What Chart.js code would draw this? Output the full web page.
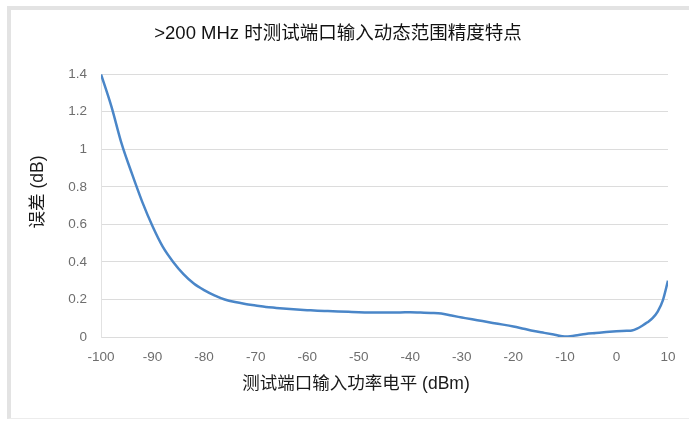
<!DOCTYPE html>
<html>
<head>
<meta charset="utf-8">
<script src="https://cdn.jsdelivr.net/npm/chart.js@4"></script>
<style>
  html, body { margin: 0; padding: 0; background: #ffffff; }
  #wrap { position: relative; width: 689px; height: 422px; overflow: hidden; }
  #frame { position: absolute; left: 7px; top: 6px; width: 700px; height: 413px;
           border-left: 4px solid #e3e3e3; border-top: 4px solid #e3e3e3; border-bottom: 1px solid #ececec;
           box-sizing: border-box; }
  canvas { position: absolute; left: 0; top: 0; }
</style>
</head>
<body>
<div id="wrap">
  <div id="frame"></div>
  <canvas id="c" width="689" height="422"></canvas>
</div>
<script>
const chartTitle = '>200 MHz 时测试端口输入动态范围精度特点';
const xAxisTitle = '测试端口输入功率电平 (dBm)';
const yAxisTitle = '误差 (dB)';

const powerLevels = [-100, -98, -96, -94, -92, -90, -88, -86, -84, -82, -80, -78, -76, -74, -72, -70,
  -68, -66, -64, -62, -60, -58, -56, -54, -52, -50, -48, -46, -44, -42, -40, -38, -36, -34, -32, -30,
  -28, -26, -24, -22, -20, -18, -16, -14, -12, -10, -8, -6, -4, -2, 0, 2, 3, 4, 5, 6, 7, 8, 9, 10];
const errorValues = [1.40, 1.23, 1.03, 0.87, 0.72, 0.59, 0.48, 0.40, 0.335, 0.285, 0.25, 0.222, 0.200, 0.186, 0.176, 0.168,
  0.160, 0.155, 0.150, 0.146, 0.143, 0.140, 0.138, 0.136, 0.134, 0.132, 0.131, 0.131, 0.131, 0.131, 0.132, 0.130, 0.128, 0.125, 0.114, 0.104,
  0.094, 0.085, 0.075, 0.066, 0.056, 0.044, 0.032, 0.022, 0.012, 0.002, 0.008, 0.016, 0.021, 0.026, 0.030, 0.033, 0.035, 0.045, 0.060, 0.078, 0.100, 0.135, 0.195, 0.300];

const xTicks = [-100, -90, -80, -70, -60, -50, -40, -30, -20, -10, 0, 10];
const yTicks = [0, 0.2, 0.4, 0.6, 0.8, 1, 1.2, 1.4];

const fontFamily = '"Liberation Sans", "Noto Sans CJK SC", Arial, sans-serif';

const axisTitlePlugin = {
  id: 'axisTitlePlugin',
  afterDraw(chart, args, opts) {
    const ctx = chart.ctx;
    ctx.save();
    ctx.fillStyle = '#1a1a1a';
    ctx.font = '17.5px ' + fontFamily;
    ctx.textAlign = 'center';
    ctx.textBaseline = 'middle';
    ctx.fillText(opts.xText, 356, 384);
    ctx.translate(38, 192);
    ctx.rotate(-Math.PI / 2);
    ctx.fillText(opts.yText, 0, 0);
    ctx.restore();
  }
};

new Chart(document.getElementById('c'), {
  type: 'line',
  data: {
    datasets: [{
      data: powerLevels.map((x, i) => ({ x: x, y: errorValues[i] })),
      borderColor: '#4a86c8',
      borderWidth: 2.5,
      pointRadius: 0,
      fill: false,
      cubicInterpolationMode: 'monotone'
    }]
  },
  plugins: [axisTitlePlugin],
  options: {
    responsive: false,
    animation: false,
    devicePixelRatio: 1,
    layout: { padding: { top: 0, right: 21, bottom: 0, left: 8 } },
    plugins: {
      legend: { display: false },
      tooltip: { enabled: false },
      title: {
        display: true,
        text: chartTitle,
        color: '#111111',
        font: { family: fontFamily, size: 18.5, weight: 'normal', lineHeight: 1.2 },
        padding: { top: 23, bottom: 29 }
      },
      axisTitlePlugin: { xText: xAxisTitle, yText: yAxisTitle }
    },
    scales: {
      x: {
        type: 'linear',
        min: -100,
        max: 10,
        afterFit(scale) { scale.height = 85; },
        afterBuildTicks(scale) { scale.ticks = xTicks.map(v => ({ value: v })); },
        grid: { display: false, drawTicks: false },
        border: { display: false },
        ticks: {
          color: '#6e6e6e',
          padding: 12,
          maxRotation: 0,
          autoSkip: false,
          font: { family: fontFamily, size: 13.5 },
          callback: v => String(v)
        }
      },
      y: {
        type: 'linear',
        min: 0,
        max: 1.4,
        afterFit(scale) { scale.width = 93; },
        afterBuildTicks(scale) { scale.ticks = yTicks.map(v => ({ value: v })); },
        grid: { color: '#dcdcdc', lineWidth: 1, drawTicks: false },
        border: { display: true, color: '#e2e2e2', width: 1 },
        ticks: {
          color: '#6e6e6e',
          padding: 14,
          font: { family: fontFamily, size: 13.5 },
          callback: v => String(Math.round(v * 10) / 10)
        }
      }
    }
  }
});
</script>
</body>
</html>
